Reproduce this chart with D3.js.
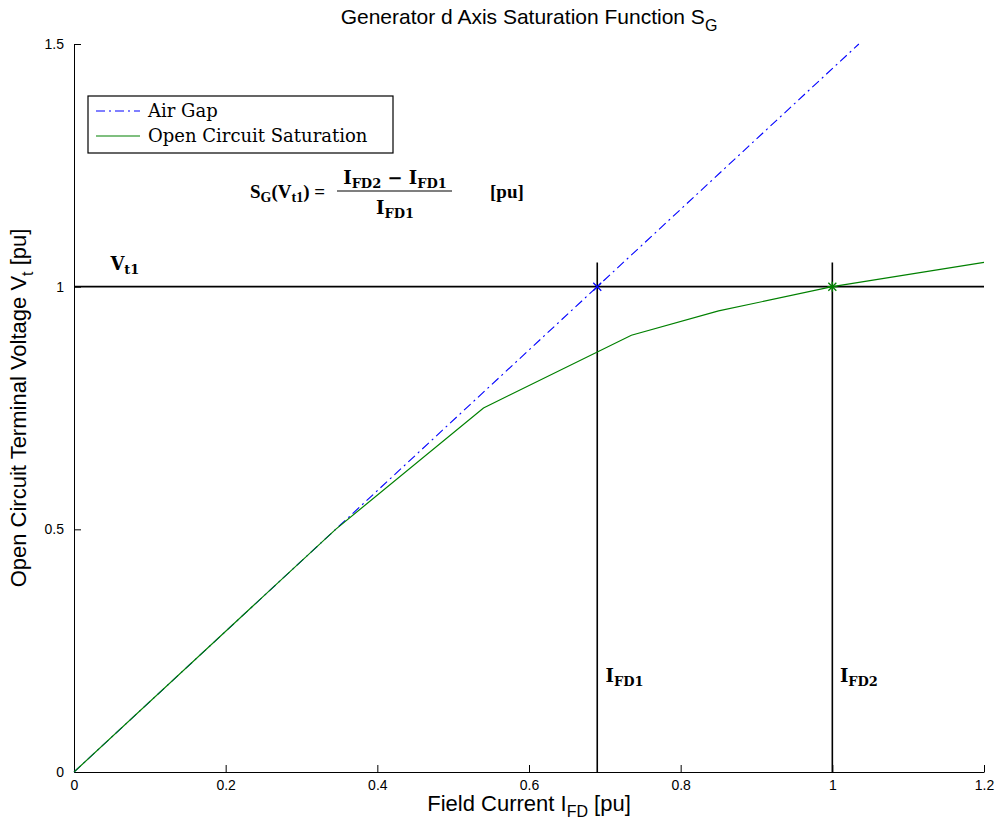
<!DOCTYPE html>
<html>
<head>
<script src="https://cdn.jsdelivr.net/npm/d3@7"></script>
<style>
  body { margin: 0; background: #fff; }
  text { font-family: "Liberation Sans", Arial, sans-serif; }
  .tex { font-family: "DejaVu Serif", "Liberation Serif", serif; }
  .tex2 { font-family: "Liberation Serif", "DejaVu Serif", serif; }
</style>
</head>
<body>
<svg width="998" height="825"></svg>
<script>
// data
var airGap = [[0, 0], [1.035, 1.5]];
var openCircuit = [[0, 0], [0.345, 0.5], [0.54, 0.75], [0.735, 0.9], [0.85, 0.95], [1.0, 1.0], [1.2, 1.05]];
var vt1 = 1.0;
var ifd1 = 0.69, ifd2 = 1.0;
var xTicks = [0, 0.2, 0.4, 0.6, 0.8, 1, 1.2];
var yTicks = [0, 0.5, 1, 1.5];

var svg = d3.select("svg"),
    margin = {top: 44, right: 14, bottom: 53, left: 74},
    width = +svg.attr("width") - margin.left - margin.right,
    height = +svg.attr("height") - margin.top - margin.bottom;

var x = d3.scaleLinear().domain([0, 1.2]).range([0, width]);
var y = d3.scaleLinear().domain([0, 1.5]).range([height, 0]);

var g = svg.append("g").attr("transform", "translate(" + margin.left + "," + margin.top + ")");

/** axes, ticks pointing inward **/
var xaxis = d3.axisBottom(x).tickValues(xTicks).tickSizeInner(-7).tickSizeOuter(0).tickPadding(8)
  .tickFormat(function(d) { return d3.format("")(+d.toFixed(1)); });
var yaxis = d3.axisLeft(y).tickValues(yTicks).tickSizeInner(-7).tickSizeOuter(0).tickPadding(10)
  .tickFormat(function(d) { return d3.format("")(+d.toFixed(1)); });

function styleAxis(a) {
  a.select(".domain").attr("stroke", "#000");
  a.selectAll("line").attr("stroke", "#000");
  a.selectAll("text").style("font-size", "14px").attr("fill", "#000")
    .style("font-family", "'Liberation Sans', Arial, sans-serif");
}

g.append("g").attr("transform", "translate(0," + height + ")").call(xaxis).call(styleAxis);
g.append("g").call(yaxis).call(styleAxis);

/** reference lines **/
var line = d3.line().x(function(d) { return x(d[0]); }).y(function(d) { return y(d[1]); });

g.append("path").datum([[0, vt1], [1.2, vt1]]).attr("d", line)
  .attr("fill", "none").attr("stroke", "#000").attr("stroke-width", 1.6);
[ifd1, ifd2].forEach(function(v) {
  g.append("path").datum([[v, 0], [v, 1.05]]).attr("d", line)
    .attr("fill", "none").attr("stroke", "#000").attr("stroke-width", 1.6);
});

/** curves **/
g.append("path").datum(airGap).attr("d", line)
  .attr("fill", "none").attr("stroke", "#0000ff").attr("stroke-width", 1.1)
  .attr("stroke-dasharray", "9,4,2,4");
g.append("path").datum(openCircuit).attr("d", line)
  .attr("fill", "none").attr("stroke", "#008000").attr("stroke-width", 1.2);

/** markers **/
function cross(px, py, s, col) {
  g.append("path").attr("d", "M" + (px - s) + "," + (py - s) + "L" + (px + s) + "," + (py + s) +
      "M" + (px - s) + "," + (py + s) + "L" + (px + s) + "," + (py - s))
    .attr("stroke", col).attr("stroke-width", 1.3);
}
cross(x(ifd1), y(vt1), 4, "#0000ff");
cross(x(ifd2), y(vt1), 4, "#008000");
g.append("path").attr("d", "M" + (x(ifd2) - 5) + "," + y(vt1) + "L" + (x(ifd2) + 5) + "," + y(vt1) +
    "M" + x(ifd2) + "," + (y(vt1) - 5) + "L" + x(ifd2) + "," + (y(vt1) + 5))
  .attr("stroke", "#008000").attr("stroke-width", 1.3);

/** annotations **/
function subLabel(px, py, main, sub) {
  var t = g.append("text").attr("class", "tex").attr("x", px).attr("y", py)
    .style("font-size", "18px").style("font-weight", "bold").attr("fill", "#000");
  t.append("tspan").text(main);
  t.append("tspan").attr("dy", 4).style("font-size", "13px").text(sub);
  return t;
}
subLabel(x(0.048), y(1.035), "V", "t1");
subLabel(x(0.701), y(0.185), "I", "FD1");
subLabel(x(1.01), y(0.185), "I", "FD2");

// formula S_G(V_t1) = (I_FD2 - I_FD1) / I_FD1  [pu]
var f = g.append("text").attr("class", "tex2").attr("x", 176).attr("y", 154)
  .style("font-size", "19px").style("font-weight", "bold").attr("fill", "#000");
f.append("tspan").text("S");
f.append("tspan").attr("dy", 4).style("font-size", "14px").text("G");
f.append("tspan").attr("dy", -4).text("(V");
f.append("tspan").attr("dy", 4).style("font-size", "14px").text("t1");
f.append("tspan").attr("dy", -4).text(") =");
var num = g.append("text").attr("class", "tex").attr("x", 321).attr("y", 140)
  .attr("text-anchor", "middle")
  .style("font-size", "18px").style("font-weight", "bold").attr("fill", "#000");
num.append("tspan").text("I");
num.append("tspan").attr("dy", 4).style("font-size", "13px").text("FD2");
num.append("tspan").attr("dy", -4).text(" \u2212 I");
num.append("tspan").attr("dy", 4).style("font-size", "13px").text("FD1");
g.append("line").attr("x1", 263).attr("x2", 378).attr("y1", 147).attr("y2", 147)
  .attr("stroke", "#000").attr("stroke-width", 1.2);
var den = g.append("text").attr("class", "tex").attr("x", 321).attr("y", 170)
  .attr("text-anchor", "middle")
  .style("font-size", "18px").style("font-weight", "bold").attr("fill", "#000");
den.append("tspan").text("I");
den.append("tspan").attr("dy", 4).style("font-size", "13px").text("FD1");
g.append("text").attr("class", "tex2").attr("x", 416).attr("y", 154)
  .style("font-size", "19px").style("font-weight", "bold").attr("fill", "#000").text("[pu]");

/** legend **/
var leg = g.append("g").attr("transform", "translate(14,52)");
leg.append("rect").attr("width", 305).attr("height", 57)
  .attr("fill", "#fff").attr("stroke", "#000").attr("stroke-width", 1.2);
leg.append("line").attr("x1", 8).attr("x2", 52).attr("y1", 15).attr("y2", 15)
  .attr("stroke", "#0000ff").attr("stroke-width", 1.1).attr("stroke-dasharray", "9,4,2,4");
leg.append("line").attr("x1", 8).attr("x2", 52).attr("y1", 40).attr("y2", 40)
  .attr("stroke", "#008000").attr("stroke-width", 1.2);
leg.append("text").attr("class", "tex").attr("x", 60).attr("y", 21)
  .style("font-size", "18px").attr("fill", "#000").text("Air Gap");
leg.append("text").attr("class", "tex").attr("x", 60).attr("y", 46)
  .style("font-size", "18px").attr("fill", "#000").text("Open Circuit Saturation");

/** titles **/
var title = svg.append("text").attr("x", margin.left + width / 2).attr("y", 24)
  .attr("text-anchor", "middle").style("font-size", "21px").attr("fill", "#000");
title.append("tspan").text("Generator d Axis Saturation Function S");
title.append("tspan").attr("dy", 7).style("font-size", "16px").text("G");

var xl = svg.append("text").attr("x", margin.left + width / 2).attr("y", 811)
  .attr("text-anchor", "middle").style("font-size", "22px").attr("fill", "#000");
xl.append("tspan").text("Field Current I");
xl.append("tspan").attr("dy", 6).style("font-size", "16px").text("FD");
xl.append("tspan").attr("dy", -6).text(" [pu]");

var yl = svg.append("text").attr("transform", "translate(26," + (margin.top + height / 2) + ") rotate(-90)")
  .attr("text-anchor", "middle").style("font-size", "22px").attr("fill", "#000");
yl.append("tspan").text("Open Circuit Terminal Voltage V");
yl.append("tspan").attr("dy", 7).style("font-size", "16px").text("t");
yl.append("tspan").attr("dy", -7).text(" [pu]");
</script>
</body>
</html>
